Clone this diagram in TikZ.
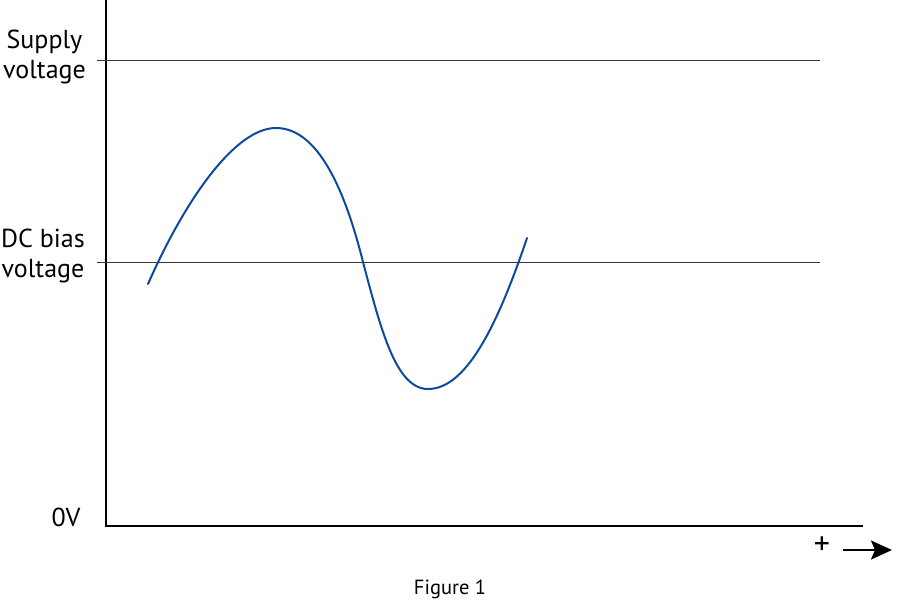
\documentclass[tikz,border=0pt]{standalone}
\usepackage{fontspec}
\setmainfont{PT Sans}
\usepackage{tikz}
\usetikzlibrary{
  arrows.meta,
  positioning
}
\definecolor{waveblue}{RGB}{12, 74, 158}
\definecolor{levelgray}{RGB}{55, 55, 55}

\begin{document}
\begin{tikzpicture}[x=1pt, y=-1pt,
  axis/.style={draw=black, line width=2pt},
  level/.style={draw=levelgray, line width=0.9pt},
  wave/.style={draw=waveblue, line width=2pt, line cap=round},
  lbl/.style={font=\fontsize{26}{30}\selectfont, align=center, inner sep=0pt},
  figcap/.style={font=\fontsize{20.5}{24}\selectfont, inner sep=0pt}
]
\useasboundingbox (0,0) rectangle (900,600);

% axes
\coordinate (ytop) at (106,0);
\coordinate (orig) at (106,526);
\coordinate (xend) at (863,526);
\draw[axis] (ytop) -- (orig) -- (xend);

% voltage levels
\coordinate (supL) at (97,60);
\coordinate (supR) at (820,60);
\coordinate (dcL) at (97,262);
\coordinate (dcR) at (820,262);
\draw[level] (supL) -- (supR);
\draw[level] (dcL) -- (dcR);

% labels
\node[lbl, anchor=east] (supply) at (86,57) {Supply\\voltage};
\node[lbl, anchor=east] (dcbias) at (85,256) {DC bias\\voltage};
\node[lbl] (zero) at (66,517) {0V};

% signal
\coordinate (w0) at (148,284);
\coordinate (wpk) at (276,128);
\coordinate (wx) at (363,262);
\coordinate (wtr) at (428,389);
\coordinate (w1) at (527,238);
\draw[wave] (w0) .. controls (185,200) and (235,128) .. (wpk)
  .. controls (318,128) and (345,190) .. (wx)
  .. controls (381,330) and (396,389) .. (wtr)
  .. controls (465,389) and (496,330) .. (w1);

% time direction
\node[font=\fontsize{32}{32}\selectfont, inner sep=0pt] (plus) at (822,546) {+};
\coordinate (arrS) at (843,550);
\coordinate (arrE) at (892,550);
\draw[line width=2.2pt, -{Stealth[length=21pt, width=19pt, inset=4pt]}] (arrS) -- (arrE);

% caption
\node[figcap] (fig) at (450,589) {Figure 1};

\end{tikzpicture}
\end{document}
